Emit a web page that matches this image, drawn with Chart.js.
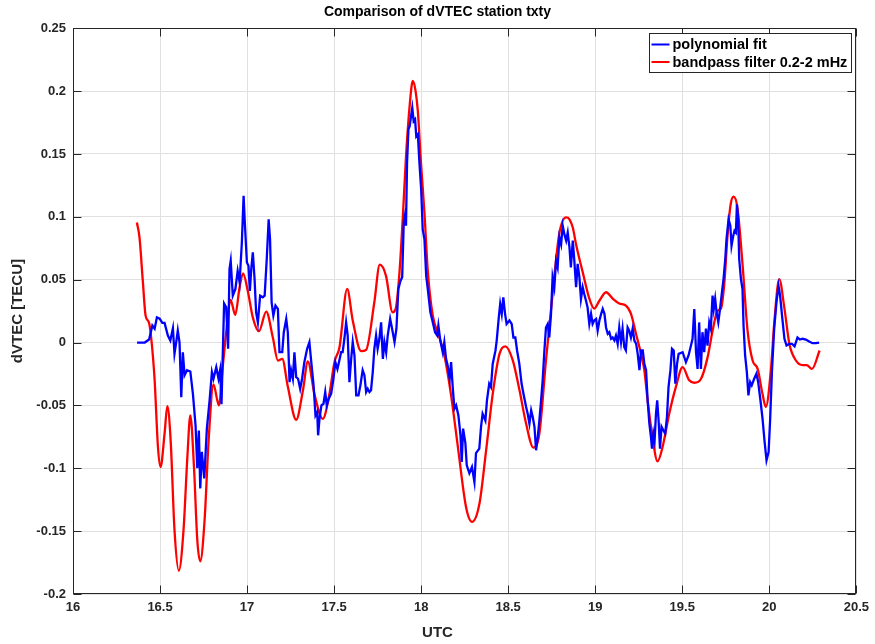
<!DOCTYPE html>
<html>
<head>
<meta charset="utf-8">
<title>Comparison of dVTEC station txty</title>
<script src="https://cdn.jsdelivr.net/npm/chart.js@4/dist/chart.umd.min.js"></script>
<style>
  html, body { margin: 0; padding: 0; background: #ffffff; }
  #wrap { width: 875px; height: 644px; }
</style>
</head>
<body>
<div id="wrap"><canvas id="c" width="875" height="644"></canvas></div>
<script>
// Axis ranges and tick steps (UTC hours, TECU)
const xTicks = [16, 16.5, 17, 17.5, 18, 18.5, 19, 19.5, 20, 20.5];
const yTicks = [-0.2, -0.15, -0.1, -0.05, 0, 0.05, 0.1, 0.15, 0.2, 0.25];

const chartTitle = 'Comparison of dVTEC station txty';
const xLabel = 'UTC';
const yLabel = 'dVTEC [TECU]';
const seriesNames = ['polynomial fit', 'bandpass filter 0.2-2 mHz'];

// dVTEC from the polynomial fit
const polyTime = [
  16.368,16.412,16.437,16.456,16.469,16.482,16.498,16.513,16.526,16.545,16.559,16.574,16.583,16.593,16.602,16.612,16.622,16.631,16.641,16.655,
  16.674,16.689,16.704,16.714,16.723,16.731,16.74,16.754,16.769,16.784,16.798,16.807,16.823,16.836,16.845,16.853,16.868,16.88,16.891,16.899,
  16.906,16.918,16.933,16.946,16.957,16.97,16.98,16.987,16.999,17.008,17.016,17.024,17.033,17.043,17.052,17.062,17.075,17.09,17.101,17.113,
  17.124,17.132,17.141,17.151,17.163,17.177,17.186,17.202,17.211,17.225,17.234,17.244,17.253,17.263,17.272,17.282,17.293,17.305,17.316,17.329,
  17.345,17.358,17.367,17.382,17.393,17.403,17.408,17.416,17.427,17.439,17.449,17.458,17.469,17.483,17.496,17.507,17.519,17.53,17.54,17.549,
  17.559,17.569,17.578,17.588,17.598,17.607,17.617,17.627,17.64,17.651,17.664,17.674,17.684,17.693,17.703,17.712,17.722,17.731,17.741,17.75,
  17.76,17.77,17.78,17.789,17.799,17.808,17.822,17.833,17.847,17.858,17.869,17.881,17.891,17.9,17.908,17.913,17.919,17.927,17.934,17.942,
  17.949,17.957,17.965,17.972,17.981,17.99,18.0,18.009,18.019,18.029,18.038,18.053,18.067,18.08,18.092,18.099,18.11,18.124,18.133,18.143,
  18.152,18.164,18.172,18.182,18.191,18.201,18.214,18.226,18.233,18.241,18.254,18.262,18.277,18.292,18.306,18.315,18.334,18.344,18.353,18.369,
  18.378,18.391,18.401,18.411,18.427,18.434,18.446,18.454,18.463,18.472,18.482,18.491,18.507,18.52,18.53,18.541,18.551,18.564,18.577,18.588,
  18.603,18.612,18.622,18.632,18.641,18.651,18.66,18.67,18.679,18.689,18.698,18.708,18.717,18.727,18.736,18.746,18.755,18.765,18.775,18.784,
  18.794,18.804,18.813,18.823,18.833,18.842,18.852,18.86,18.871,18.88,18.89,18.899,18.909,18.918,18.928,18.937,18.947,18.956,18.966,18.976,
  18.985,18.994,19.005,19.014,19.024,19.034,19.043,19.053,19.062,19.072,19.081,19.091,19.1,19.11,19.119,19.129,19.138,19.148,19.157,19.167,
  19.176,19.186,19.195,19.205,19.215,19.225,19.235,19.244,19.254,19.263,19.273,19.282,19.292,19.301,19.311,19.32,19.326,19.334,19.341,19.349,
  19.356,19.364,19.372,19.381,19.392,19.402,19.412,19.421,19.432,19.441,19.451,19.46,19.47,19.479,19.502,19.521,19.536,19.55,19.559,19.569,
  19.579,19.588,19.597,19.607,19.616,19.626,19.636,19.645,19.655,19.664,19.674,19.681,19.689,19.697,19.707,19.717,19.728,19.737,19.747,19.754,
  19.766,19.776,19.783,19.793,19.8,19.808,19.814,19.821,19.827,19.837,19.846,19.852,19.861,19.871,19.88,19.89,19.899,19.913,19.926,19.936,
  19.948,19.961,19.973,19.984,19.996,20.005,20.015,20.028,20.041,20.053,20.062,20.075,20.087,20.099,20.115,20.13,20.145,20.162,20.176,20.191,
  20.21,20.229,20.248,20.267,20.286
];
const polyDvtec = [
  0,0,0.0024,0.0135,0.011,0.020,0.019,0.0156,0.0156,0.0056,0.0016,0.0114,-0.009,0.0003,0.0095,0,-0.0434,-0.0077,-0.026,-0.022,
  -0.023,-0.041,-0.066,-0.100,-0.070,-0.116,-0.087,-0.108,-0.0685,-0.047,-0.0235,-0.0288,-0.0196,-0.0288,-0.022,-0.049,0.031,0.028,-0.005,0.0585,
  0.065,0.0373,0.0426,0.057,0.048,0.0796,0.1167,0.0955,0.0637,0.061,0.041,0.0585,0.0717,0.0505,0.024,0.016,0.0373,0.036,0.0373,0.0664,
  0.098,0.082,0.032,0.0214,0.0294,0.0267,-0.0077,-0.0077,0.0082,0.0188,0.0082,-0.0315,-0.022,-0.0288,-0.0077,-0.0275,-0.0288,-0.0368,-0.0288,-0.0156,
  -0.005,0.0003,-0.013,-0.034,-0.058,-0.0553,-0.0738,-0.0606,-0.050,-0.0487,-0.0394,-0.050,-0.0447,-0.0407,-0.0288,-0.0156,-0.021,-0.0143,-0.0077,-0.0077,
  0.003,0.016,0.0056,-0.0315,-0.013,0.0003,-0.0103,-0.042,-0.042,-0.034,-0.022,-0.026,-0.0394,-0.0368,-0.0394,-0.038,-0.0235,-0.005,0.0056,-0.005,
  0.003,0.016,-0.013,0.0003,-0.0077,0.0056,0.0188,0.011,0.0003,0.011,0.0426,0.049,0.052,0.0955,0.102,0.0929,0.143,0.1696,0.172,0.180,
  0.1867,0.176,0.1775,0.164,0.1656,0.143,0.122,0.090,0.082,0.053,0.0426,0.024,0.016,0.0082,0.0056,0.0135,0.0016,-0.0077,0.0003,-0.013,
  -0.018,-0.0288,-0.0156,-0.0368,-0.0526,-0.050,-0.058,-0.0738,-0.095,-0.0685,-0.080,-0.0976,-0.104,-0.099,-0.111,-0.088,-0.0844,-0.067,-0.0566,-0.062,
  -0.046,-0.0328,-0.0354,-0.017,-0.0063,0.0016,0.020,0.0307,0.0228,0.036,0.0228,0.0148,0.0175,0.0148,0.004,0.004,-0.0063,-0.017,-0.0328,-0.041,
  -0.0513,-0.0566,-0.0645,-0.054,-0.0593,-0.067,-0.0857,-0.075,-0.062,-0.046,-0.030,-0.0063,0.012,0.0148,0.004,0.0228,0.052,0.044,0.065,0.0598,
  0.0836,0.078,0.093,0.086,0.081,0.0875,0.0757,0.0598,0.081,0.065,0.044,0.0625,0.052,0.0347,0.044,0.0386,0.0333,0.028,0.0148,0.0228,
  0.0148,0.0175,0.0188,0.0095,0.0175,0.0228,0.0267,0.0228,0.012,0.0069,0.0082,0.003,0.004,0.0016,0.0056,-0.001,0.012,0.0003,0.011,-0.0037,
  -0.0063,0.012,0.0095,0.004,0.011,0.0016,-0.001,-0.009,-0.022,-0.0063,-0.0063,-0.017,-0.022,-0.046,-0.0645,-0.075,-0.0844,-0.0725,-0.078,-0.0566,
  -0.046,-0.062,-0.0844,-0.067,-0.070,-0.0725,-0.0593,-0.0355,-0.022,-0.005,-0.0063,-0.0328,-0.017,-0.009,-0.0077,-0.0156,-0.0103,-0.0024,0.003,0.0267,
  -0.0077,-0.021,0.016,-0.021,0.0082,-0.0077,0.011,-0.0024,0.016,0.011,0.0373,0.0267,0.0347,0.024,0.016,0.0267,0.040,0.0505,0.0664,0.082,
  0.098,0.0929,0.077,0.085,0.0889,0.0875,0.110,0.098,0.0664,0.0505,0.0426,0.0135,-0.0103,-0.0235,-0.042,-0.0315,-0.034,-0.0288,-0.0248,-0.0315,
  -0.0447,-0.0606,-0.079,-0.0937,-0.087,-0.0606,-0.0235,0.011,0.032,0.045,0.0373,0.0188,0.003,-0.0024,-0.001,-0.001,-0.003,0.004,0.0024,0.003,
  0.0024,0.0008,-0.0005,-0.0005,0
];

// dVTEC from the 0.2-2 mHz bandpass filter
const bandTime = [
  16.367,16.382,16.401,16.417,16.436,16.449,16.469,16.488,16.503,16.526,16.542,16.561,16.583,16.608,16.635,16.657,16.674,16.695,16.714,16.731,
  16.756,16.779,16.807,16.838,16.86,16.881,16.905,16.932,16.957,16.977,17.004,17.033,17.068,17.11,17.148,17.177,17.202,17.234,17.282,17.321,
  17.349,17.387,17.435,17.473,17.502,17.531,17.575,17.607,17.655,17.684,17.731,17.762,17.798,17.836,17.854,17.874,17.894,17.913,17.935,17.952,
  17.968,17.981,17.999,18.019,18.038,18.066,18.105,18.133,18.172,18.21,18.258,18.292,18.335,18.373,18.411,18.45,18.484,18.526,18.565,18.603,
  18.645,18.679,18.717,18.755,18.793,18.833,18.852,18.871,18.89,18.928,18.966,18.994,19.023,19.062,19.1,19.138,19.176,19.205,19.234,19.263,
  19.282,19.301,19.326,19.358,19.387,19.425,19.463,19.502,19.54,19.569,19.607,19.645,19.675,19.703,19.722,19.741,19.76,19.778,19.795,19.817,
  19.846,19.875,19.904,19.933,19.961,19.98,20.009,20.028,20.057,20.086,20.115,20.153,20.191,20.215,20.245,20.289
];
const bandDvtec = [
  0.0955,0.0836,0.049,0.0214,0.016,0.004,-0.030,-0.083,-0.099,-0.0725,-0.0505,-0.078,-0.149,-0.1815,-0.149,-0.091,-0.058,-0.099,-0.157,-0.174,
  -0.141,-0.078,-0.0333,-0.050,-0.0196,0.0095,0.034,0.022,0.044,0.055,0.041,0.020,0.009,0.0246,0.004,-0.0143,-0.013,-0.035,-0.0614,-0.038,
  -0.0151,-0.041,-0.0606,-0.041,-0.0156,-0.0037,0.0426,0.0175,-0.0069,-0.0058,0.032,0.0619,0.053,0.024,0.027,0.053,0.098,0.148,0.19,0.208,
  0.2,0.184,0.143,0.103,0.057,0.022,0.004,-0.01,-0.042,-0.082,-0.131,-0.1426,-0.128,-0.086,-0.041,-0.009,-0.003,-0.014,-0.038,-0.0646,
  -0.0836,-0.0725,-0.0143,0.0386,0.0862,0.0995,0.098,0.0915,0.078,0.056,0.035,0.027,0.033,0.040,0.035,0.031,0.0294,0.023,0.007,-0.009,
  -0.022,-0.046,-0.0725,-0.0944,-0.083,-0.0566,-0.0355,-0.0196,-0.030,-0.032,-0.029,-0.012,0.010,0.0254,0.027,0.046,0.085,0.110,0.116,0.107,
  0.0625,0.0095,-0.0143,-0.021,-0.041,-0.0513,-0.022,0.0148,0.0505,0.028,-0.001,-0.0143,-0.018,-0.018,-0.021,-0.0063
];

const INK = '#262626';
const FONT = "'Liberation Sans', Arial, Helvetica, sans-serif";
Chart.defaults.font.family = FONT;
Chart.defaults.color = INK;

const toPoints = (xs, ys) => xs.map((x, i) => ({ x: x, y: ys[i] }));
const fmt = v => String(Number(v.toFixed(2)));

// Figure title and x label (centred on the figure), box around the axes,
// inward tick marks on all four sides, and the legend
const frameAndLegend = {
  id: 'frameAndLegend',
  afterDraw(chart) {
    const { ctx, chartArea: a, scales: { x, y } } = chart;
    const W = chart.width;
    const L = Math.round(a.left) + 0.5, R = Math.round(a.right) - 0.5;
    const T = Math.round(a.top) + 0.5, B = Math.round(a.bottom) - 0.5;
    ctx.save();

    ctx.textAlign = 'center';
    ctx.textBaseline = 'middle';
    ctx.fillStyle = '#000000';
    ctx.font = 'bold 14px ' + FONT;
    ctx.fillText(chartTitle, W / 2, 12.5);
    ctx.fillStyle = INK;
    ctx.font = 'bold 15px ' + FONT;
    ctx.fillText(xLabel, W / 2, 633);

    ctx.strokeStyle = INK;
    ctx.lineWidth = 1;
    ctx.strokeRect(L, T, R - L, B - T);
    const tl = 8;
    ctx.beginPath();
    xTicks.forEach(v => {
      const p = Math.round(x.getPixelForValue(v)) + 0.5;
      ctx.moveTo(p, B); ctx.lineTo(p, B - tl);
      ctx.moveTo(p, T); ctx.lineTo(p, T + tl);
    });
    yTicks.forEach(v => {
      const p = Math.round(y.getPixelForValue(v)) + 0.5;
      ctx.moveTo(L, p); ctx.lineTo(L + tl, p);
      ctx.moveTo(R, p); ctx.lineTo(R - tl, p);
    });
    ctx.stroke();

    // legend in the upper right corner of the axes
    ctx.font = 'bold 14.5px ' + FONT;
    const sets = chart.data.datasets;
    const textW = Math.max(...sets.map(d => ctx.measureText(d.label).width));
    const sampleW = 18, gap = 3, padL = 2, padR = 4;
    const boxW = Math.round(padL + sampleW + gap + textW + padR);
    const rowH = 17.5, boxH = 39;
    const bx = Math.round(a.right) - 5 - boxW + 0.5;
    const by = Math.round(a.top) + 5 + 0.5;
    ctx.fillStyle = '#ffffff';
    ctx.fillRect(bx, by, boxW, boxH);
    ctx.strokeStyle = INK;
    ctx.lineWidth = 1;
    ctx.strokeRect(bx, by, boxW, boxH);
    ctx.textBaseline = 'middle';
    ctx.textAlign = 'left';
    sets.forEach((d, i) => {
      const cy = by + 11 + i * rowH;
      ctx.strokeStyle = d.borderColor;
      ctx.lineWidth = 2;
      ctx.beginPath();
      ctx.moveTo(bx + padL, cy);
      ctx.lineTo(bx + padL + sampleW, cy);
      ctx.stroke();
      ctx.fillStyle = '#000000';
      ctx.fillText(d.label, bx + padL + sampleW + gap, cy + 0.5);
    });
    ctx.restore();
  }
};

new Chart(document.getElementById('c'), {
  type: 'line',
  data: {
    datasets: [
      {
        label: seriesNames[0],
        data: toPoints(polyTime, polyDvtec),
        borderColor: '#0000ff',
        borderWidth: 2.3,
        pointRadius: 0,
        tension: 0,
        fill: false
      },
      {
        label: seriesNames[1],
        data: toPoints(bandTime, bandDvtec),
        borderColor: '#ff0000',
        borderWidth: 2.3,
        pointRadius: 0,
        cubicInterpolationMode: 'monotone',
        fill: false
      }
    ]
  },
  options: {
    responsive: false,
    animation: false,
    events: [],
    layout: { padding: { left: 0, right: 18, top: 28.2, bottom: 0 } },
    plugins: {
      legend: { display: false },
      tooltip: { enabled: false },
      title: { display: false }
    },
    scales: {
      x: {
        type: 'linear',
        min: xTicks[0],
        max: xTicks[xTicks.length - 1],
        afterBuildTicks: s => { s.ticks = xTicks.map(v => ({ value: v })); },
        afterFit: s => { s.height = 50; },
        grid: { color: '#e0e0e0', drawTicks: false, lineWidth: 1 },
        border: { display: false },
        ticks: {
          autoSkip: false, maxRotation: 0, padding: 6,
          font: { size: 13, weight: 'bold' }, color: INK,
          callback: v => fmt(v)
        },
        title: { display: false }
      },
      y: {
        type: 'linear',
        min: yTicks[0],
        max: yTicks[yTicks.length - 1],
        afterBuildTicks: s => { s.ticks = yTicks.map(v => ({ value: v })); },
        afterFit: s => { s.width = 73; },
        grid: { color: '#e0e0e0', drawTicks: false, lineWidth: 1 },
        border: { display: false },
        ticks: {
          autoSkip: false, padding: 7,
          font: { size: 13, weight: 'bold' }, color: INK,
          callback: v => fmt(v)
        },
        title: {
          display: true, text: yLabel, color: INK,
          font: { size: 15, weight: 'bold' },
          padding: { top: 9, bottom: 0 }
        }
      }
    }
  },
  plugins: [frameAndLegend]
});
</script>
</body>
</html>
